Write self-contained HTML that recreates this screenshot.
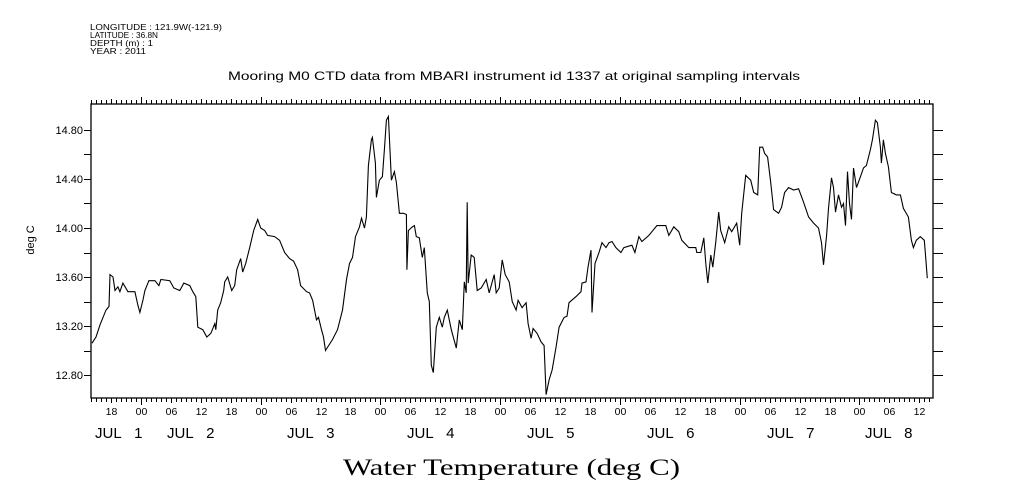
<!DOCTYPE html>
<html><head><meta charset="utf-8"><style>
html,body{margin:0;padding:0;background:#fff;}
svg{display:block;font-family:"Liberation Sans",sans-serif;}
</style></head><body>
<svg id="chart" width="1009" height="504" viewBox="0 0 1009 504" xmlns="http://www.w3.org/2000/svg">
<g font-size="8.5" fill="#000">
<text x="90" y="30" textLength="132" lengthAdjust="spacingAndGlyphs">LONGITUDE : 121.9W(-121.9)</text>
<text x="90" y="38" textLength="68" lengthAdjust="spacingAndGlyphs">LATITUDE : 36.8N</text>
<text x="90" y="46" textLength="63" lengthAdjust="spacingAndGlyphs">DEPTH (m) : 1</text>
<text x="90" y="54" textLength="56" lengthAdjust="spacingAndGlyphs">YEAR : 2011</text>
</g>
<text x="228" y="80" textLength="572" lengthAdjust="spacingAndGlyphs" font-size="12">Mooring M0 CTD data from MBARI instrument id 1337 at original sampling intervals</text>
<text x="343" y="475" textLength="337" lengthAdjust="spacingAndGlyphs" font-size="23" font-family="'Liberation Serif',serif">Water Temperature (deg C)</text>
<text transform="translate(34,240) rotate(-90)" text-anchor="middle" font-size="11">deg C</text>
<rect x="91" y="104" width="842" height="294" fill="none" stroke="#000" stroke-width="1.3"/>
<g id="axes"></g>
<path id="series" fill="none" stroke="#000" stroke-width="1.1"/>
</svg>
<script>
// hours since Jul 1 14:00
const hours=[0.2,1.0,1.8,2.4,3.0,3.6,3.8,4.4,4.8,5.4,5.8,6.4,7.4,8.8,9.4,9.8,10.4,10.8,11.6,12.8,13.6,14.0,15.8,16.6,17.8,18.6,19.8,20.4,21.0,21.4,22.4,23.2,24.0,24.8,25.0,25.4,26.0,26.6,26.8,27.4,28.2,28.8,29.2,30.0,30.4,31.0,31.8,32.6,33.4,34.0,34.8,35.4,36.8,37.8,38.8,39.8,40.6,41.4,42.0,43.2,
43.8,44.4,45.2,45.6,46.2,46.6,47.0,48.4,49.4,50.4,51.2,51.8,52.4,53.0,53.8,54.2,54.8,55.2,55.6,56.2,56.4,57.0,57.2,57.8,58.4,58.8,59.2,59.6,60.2,60.8,61.2,61.8,62.6,63.2,63.3,63.6,64.4,64.8,65.2,65.8,66.4,66.8,67.4,67.8,68.2,68.6,69.2,69.8,70.4,70.8,71.4,72.2,73.2,73.4,73.8,74.4,74.8,75.2,75.4,75.6,76.2,76.8,77.4,78.2,79.2,79.8,80.8,81.2,81.8,82.4,83.0,83.8,84.4,85.2,85.6,
86.4,87.2,87.6,88.2,88.6,89.4,90.2,90.8,91.2,91.8,92.4,93.2,93.8,94.8,95.4,95.8,97.2,98.2,98.4,99.2,99.6,100.2,100.4,101.0,101.8,102.4,103.2,103.8,104.4,105.2,106.2,106.8,108.4,109.0,109.8,110.4,111.8,112.4,113.4,115.2,115.8,116.8,117.8,118.4,119.8,121.2,121.4,122.2,122.8,123.2,123.6,124.2,124.6,125.2,125.8,
126.2,127.0,127.8,128.4,129.4,130.0,130.4,131.2,132.2,132.8,133.6,134.0,134.6,135.0,135.6,136.2,136.8,137.8,138.4,139.0,139.8,140.8,141.8,142.8,143.8,144.8,145.8,146.4,146.8,147.4,147.8,148.4,148.8,149.2,149.8,150.4,150.8,151.2,151.6,152.0,152.4,152.8,153.4,154.2,154.8,155.4,156.2,156.6,157.2,157.6,158.2,158.4,158.8,159.2,159.8,160.4,161.4,162.2,162.8,163.8,164.4,164.8,165.4,166.2,167.0,167.2,167.6];
const temps=[13.06,13.11,13.21,13.27,13.33,13.36,13.62,13.60,13.49,13.52,13.48,13.55,13.48,13.48,13.37,13.31,13.41,13.49,13.57,13.57,13.53,13.58,13.57,13.51,13.49,13.55,13.53,13.48,13.44,13.19,13.17,13.11,13.14,13.22,13.17,13.33,13.39,13.49,13.56,13.60,13.49,13.53,13.66,13.75,13.64,13.71,13.84,13.98,14.07,14.00,13.98,13.94,13.93,13.90,13.80,13.75,13.73,13.66,13.53,13.48,
13.47,13.41,13.25,13.27,13.17,13.11,13.00,13.09,13.17,13.33,13.58,13.71,13.76,13.93,14.01,14.08,14.00,14.09,14.51,14.72,14.74,14.53,14.25,14.39,14.42,14.64,14.88,14.91,14.39,14.46,14.37,14.12,14.12,14.11,13.66,13.98,14.01,14.02,13.93,13.92,13.76,13.84,13.47,13.40,12.88,12.82,13.19,13.27,13.19,13.27,13.33,13.17,13.02,13.10,13.25,13.17,13.56,13.47,14.21,13.55,13.78,13.76,13.49,13.51,13.58,13.47,13.62,13.47,13.51,13.74,13.62,13.56,13.40,13.33,13.41,
13.35,13.39,13.22,13.10,13.18,13.14,13.07,13.04,12.64,12.76,12.84,13.03,13.19,13.27,13.28,13.39,13.44,13.48,13.55,13.56,13.68,13.82,13.31,13.71,13.80,13.88,13.84,13.88,13.89,13.84,13.80,13.84,13.86,13.80,13.93,13.89,13.94,13.97,14.02,14.02,13.94,14.01,13.97,13.90,13.84,13.84,13.80,13.80,13.92,13.71,13.55,13.78,13.68,13.88,14.13,
13.98,13.88,14.01,13.97,14.04,13.86,14.12,14.43,14.39,14.29,14.27,14.66,14.66,14.61,14.58,14.38,14.15,14.12,14.17,14.29,14.33,14.31,14.32,14.21,14.09,14.04,14.00,13.88,13.70,13.93,14.16,14.41,14.33,14.13,14.27,14.17,14.20,14.02,14.46,14.20,14.07,14.49,14.33,14.42,14.49,14.51,14.64,14.72,14.88,14.86,14.66,14.53,14.72,14.61,14.50,14.29,14.27,14.27,14.16,14.09,13.90,13.84,13.90,13.93,13.90,13.80,13.59];
const yTickLabels=["12.80","13.20","13.60","14.00","14.40","14.80"];
const hourLabels=["00","06","12","18"];
const dayLabels=["JUL  1","JUL  2","JUL  3","JUL  4","JUL  5","JUL  6","JUL  7","JUL  8"];

const X0=91,X1=933,Y0=104,Y1=398,PXH=4.99;
function xs(h){return X0+h*PXH;}
function ys(v){return 375-(v-12.8)*122.5;}
const NS="http://www.w3.org/2000/svg";
const ax=document.getElementById('axes');
function ln(x1,y1,x2,y2,name){const l=document.createElementNS(NS,'line');l.setAttribute('x1',x1);l.setAttribute('y1',y1);l.setAttribute('x2',x2);l.setAttribute('y2',y2);l.setAttribute('stroke','#000');l.setAttribute('stroke-width','1');


ax.appendChild(l);}
function tx(x,y,s,size,anchor,name){const t=document.createElementNS(NS,'text');t.setAttribute('x',x);t.setAttribute('y',y);t.setAttribute('font-size',size);t.setAttribute('text-anchor',anchor);t.setAttribute('xml:space','preserve');t.textContent=s;


ax.appendChild(t);}
for(let h=0;xs(h)<=X1+0.5;h++){
  const clock=(14+h)%24;const x=Math.round(xs(h))+0.5;
  const len=clock===0?7:(clock%6===0?5:4);
  ln(x,Y1,x,Y1+len,'x-tick');
  ln(x,Y0,x,Y0-len,'x-tick-top');
  if(clock%6===0){tx(x,415,hourLabels[clock/6],10.5,'middle','x-hour-label');}
}
const dayStart=[95,167,287,407,527,647,767,865];
dayLabels.forEach((d,i)=>{tx(dayStart[i],438,d.replace(/  /g,'\u00a0\u00a0\u00a0'),15,'start','day-label');});
for(let k=0;k<=10;k++){const v=12.8+k*0.2;const y=Math.round(ys(v))+0.5;if(y<Y0||y>Y1)continue;
  ln(X0-7,y,X0,y,'y-tick-left');ln(X1,y,X1+10,y,'y-tick-right');}
yTickLabels.forEach(s=>{tx(83,ys(parseFloat(s))+4,s,11,'end','y-tick-label');});
let d='';hours.forEach((h,i)=>{d+=(i?'L':'M')+xs(h).toFixed(1)+','+ys(temps[i]).toFixed(1);});
document.getElementById('series').setAttribute('d',d);
</script>
</body></html>
